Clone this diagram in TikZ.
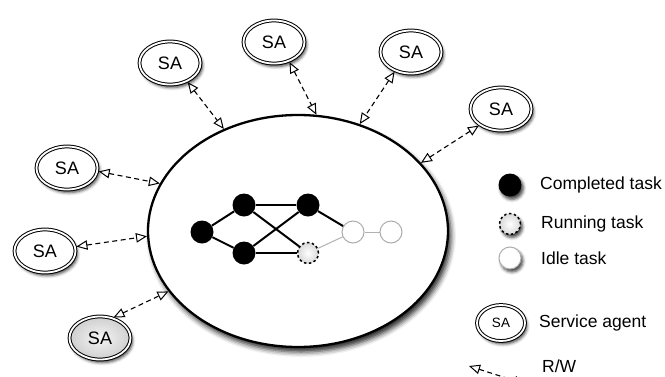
\documentclass[tikz,border=0pt]{standalone}
\usepackage{fontspec}
\setmainfont{Liberation Sans}
\usetikzlibrary{shapes.geometric,arrows.meta,shadows.blur}
\tikzset{
  sh/.style={blur shadow={shadow xshift=2pt,shadow yshift=-3pt,shadow blur radius=3pt,shadow opacity=75}},
  sa/.style={ellipse,draw,line width=1pt,double,double distance=1.8pt,fill=white,
     minimum width=61pt,minimum height=43pt,inner sep=0pt,sh,font=\fontsize{18}{20}\selectfont},
  salegend/.style={sa,minimum width=48pt,minimum height=36pt,font=\fontsize{13.5}{15}\selectfont},
  rw/.style={dashed,dash pattern=on 5pt off 3.5pt,line width=1.1pt,
     {Triangle[open,length=11pt,width=9.5pt,line width=1pt]}-{Triangle[open,length=11pt,width=9.5pt,line width=1pt]},shorten <=1pt},
  done/.style={circle,fill=black,minimum size=23pt,inner sep=0pt},
  running/.style={circle,draw=black,dash pattern=on 2.5pt off 2.5pt,line width=1.5pt,
     inner color=white,outer color=gray!30,minimum size=21pt,inner sep=0pt},
  idle/.style={circle,draw=gray!65,line width=1pt,fill=white,minimum size=22pt,inner sep=0pt},
  edge/.style={line width=2pt,black},
  gedge/.style={line width=1pt,gray!60},
  lbl/.style={anchor=west,inner sep=0pt,font=\fontsize{17.5}{20}\selectfont},
}
\begin{document}
\begin{tikzpicture}[x=1pt,y=-1pt]
\useasboundingbox (0,0) rectangle (665,376);
% big ellipse
\node[ellipse,draw,line width=2.3pt,fill=white,minimum width=300pt,minimum height=232pt,inner sep=0pt,
  blur shadow={shadow xshift=3pt,shadow yshift=-5pt,shadow blur radius=5pt,shadow opacity=85}] (big) at (298,231) {};
% graph
\node[done] (n1) at (202,232) {};
\node[done] (n2) at (244,205) {};
\node[done] (n3) at (244,253) {};
\node[done] (n4) at (308,205) {};
\node[running] (n5) at (308,253) {};
\node[idle] (n6) at (353,232) {};
\node[idle] (n7) at (391,232) {};
\draw[edge] (n1) -- (n2);
\draw[edge] (n1) -- (n3);
\draw[edge] (n2) -- (n4);
\draw[edge] (n2) -- (n5);
\draw[edge] (n3) -- (n4);
\draw[edge] (n3) -- (n5);
\draw[edge] (n4) -- (n6);
\draw[gedge] (n5) -- (n6);
\draw[gedge] (n6) -- (n7);
% service agents
\node[sa] (sa1) at (170,63) {SA};
\node[sa] (sa2) at (274,42) {SA};
\node[sa] (sa3) at (411,52) {SA};
\node[sa] (sa4) at (501,109) {SA};
\node[sa] (sa5) at (67,168) {SA};
\node[sa] (sa6) at (45,251) {SA};
\node[sa,inner color=gray!8,outer color=gray!38] (sa7) at (100,338) {SA};
\draw[rw] (sa1.-47) -- (big.126);
\draw[rw] (sa2.-52) -- (big.81);
\draw[rw] (sa3.-130) -- (big.60);
\draw[rw] (sa4.-143) -- (big.29);
\draw[rw] (sa5.-6) -- (big.161);
\draw[rw] (sa6.8) -- (big.182.5);
\draw[rw] (sa7.58) -- (big.205);
% legend
\node[done,sh] (l1) at (510,185) {};
\node[running,sh] (l2) at (510,224) {};
\node[idle,sh] (l3) at (510,258) {};
\node[salegend] (l4) at (501,323) {SA};
\node[lbl] (t1) at (540,185) {Completed task};
\node[lbl] (t2) at (541,224) {Running task};
\node[lbl] (t3) at (541,258) {Idle task};
\node[lbl] (t4) at (539,323) {Service agent};
\node[lbl] (t5) at (542,366) {R/W};
\coordinate (rwa) at (469,366);
\coordinate (rwb) at (525,384);
\draw[rw,shorten <=0pt] (rwa) -- (rwb);
\end{tikzpicture}
\end{document}
